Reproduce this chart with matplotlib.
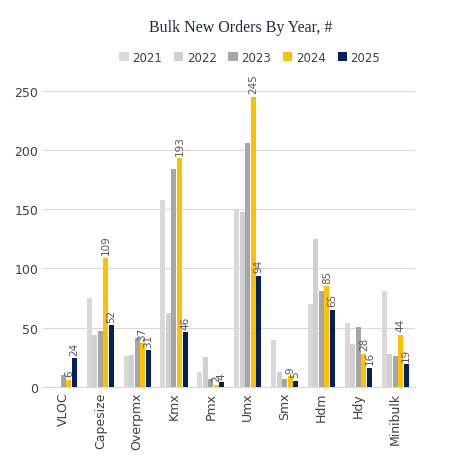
import numpy as np
import matplotlib.pyplot as plt

categories = ['VLOC', 'Capesize', 'Overpmx', 'Kmx', 'Pmx', 'Umx', 'Smx', 'Hdm', 'Hdy', 'Minibulk']
years = ['2021', '2022', '2023', '2024', '2025']
v2021 = [0, 75, 26, 158, 13, 150, 40, 70, 54, 81]
v2022 = [0, 44, 27, 62, 25, 148, 13, 125, 36, 28]
v2023 = [10, 47, 41, 184, 7, 206, 7, 81, 51, 26]
v2024 = [6, 109, 37, 193, 2, 245, 9, 85, 28, 44]
v2025 = [24, 52, 31, 46, 4, 94, 5, 65, 16, 19]
colors = ['#d9d9d9', '#d0d0d0', '#a6a6a6', '#ffc000', '#002060']

fig = plt.figure(figsize=(4.54, 4.64), dpi=100)
ax = fig.add_axes([0.095, 0.164, 0.82, 0.638])
series = [v2021, v2022, v2023, v2024, v2025]
x = np.arange(len(categories))
w = 0.15
for i, (vals, c, y) in enumerate(zip(series, colors, years)):
    bars = ax.bar(x + (i - 2) * w, vals, w * 0.9, color=c, label=y, zorder=3)
    if i >= 3:
        for b, v in zip(bars, vals):
            ax.text(b.get_x() + b.get_width() / 2, v + 3, str(v), rotation=90,
                    ha='center', va='bottom', fontsize=7.5, color='#595959')

ax.set_ylim(0, 250)
ax.set_yticks(range(0, 251, 50))
ax.set_xlim(-0.55, len(categories) - 0.45)
ax.set_xticks(x)
ax.set_xticklabels(categories, rotation=90, fontsize=9, color='#404040')
ax.tick_params(axis='y', labelsize=9, colors='#404040', length=0)
ax.tick_params(axis='x', length=0)
ax.grid(axis='y', color='#d9d9d9', linewidth=0.8, zorder=0)
for s in ['top', 'right', 'left']:
    ax.spines[s].set_visible(False)
ax.spines['bottom'].set_color('#d9d9d9')

fig.text(0.53, 0.94, 'Bulk New Orders By Year, #', ha='center', va='center',
         fontsize=11.5, color='#1f2a44', family='Liberation Serif')
fig.legend(loc='center', bbox_to_anchor=(0.55, 0.875), ncol=5, frameon=False,
           fontsize=8.5, handlelength=0.8, handleheight=0.8, columnspacing=1.0,
           handletextpad=0.3, labelcolor='#404040')
fig.savefig('out.png')
